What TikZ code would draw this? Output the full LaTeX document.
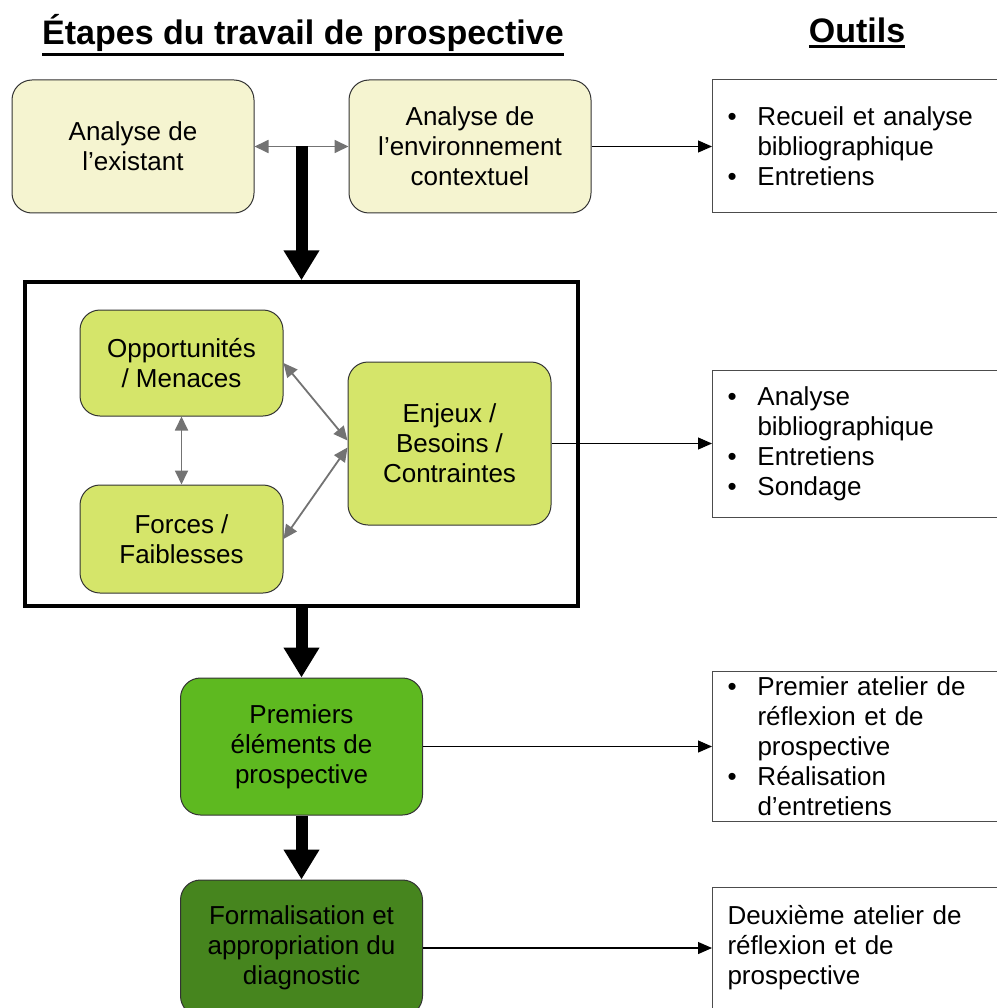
\documentclass[tikz,border=0pt]{standalone}
\usepackage{fontspec}
\setmainfont{Liberation Sans}
\usetikzlibrary{arrows.meta, positioning, calc}

\definecolor{jaunepale}{HTML}{F5F4D0}
\definecolor{vertjaune}{HTML}{D5E56A}
\definecolor{vertvif}{HTML}{5EB920}
\definecolor{vertfonce}{HTML}{46851E}

\newcommand{\souligne}[1]{\leavevmode\vtop{\hbox{#1}\kern2pt\hrule height 2.5pt}}
\newcommand{\puce}{\makebox[30pt][l]{\textbullet}}
\newcommand{\suite}{\hspace*{30pt}}

\begin{document}
\begin{tikzpicture}[x=1pt, y=-1pt, font=\fontsize{26}{30}\selectfont,
    etape/.style={draw=black!80, line width=1pt, rounded corners=20pt, align=center},
    outil/.style={draw=black!70, line width=1pt, fill=white, anchor=west, align=left,
      text width=268pt, inner xsep=15pt},
    gros/.style={line width=12pt, -{Triangle[length=30pt, width=34pt]}},
    fleche/.style={line width=1.1pt, -{Triangle[length=14pt, width=12pt]}},
    gris/.style={draw=black!55, line width=1.8pt,
      {Triangle[length=14pt, width=13pt]}-{Triangle[length=14pt, width=13pt]}}]
    \useasboundingbox (0,0) rectangle (996,1008);
    % Titres
    \node[font=\bfseries\fontsize{34}{40}\selectfont, inner sep=0pt] (titre) at (303,35) {\souligne{Étapes du travail de prospective}};
    \node[font=\bfseries\fontsize{34}{40}\selectfont, inner sep=0pt] (titreoutils) at (857,33) {\souligne{Outils}};
    % Etapes
    \node[etape, fill=jaunepale, minimum width=242pt, minimum height=133pt] (existant) at (133,146.5) {Analyse de\\l’existant};
    \node[etape, fill=jaunepale, minimum width=242pt, minimum height=133pt, right=94pt of existant] (environnement) {Analyse de\\l’environnement\\contextuel};
    \node[draw, line width=3.5pt, minimum width=553pt, minimum height=324pt] (cadre) at (301.5,444) {};
    \node[etape, fill=vertjaune, minimum width=203pt, minimum height=106pt] (opportunites) at (181.5,363) {Opportunités\\/ Menaces};
    \node[etape, fill=vertjaune, minimum width=203pt, minimum height=108pt] (forces) at (181.5,539) {Forces /\\Faiblesses};
    \node[etape, fill=vertjaune, minimum width=203pt, minimum height=163pt] (enjeux) at (449.5,443.5) {Enjeux /\\Besoins /\\Contraintes};
    \node[etape, fill=vertvif, minimum width=242pt, minimum height=137pt] (premiers) at (301.5,746.5) {Premiers\\éléments de\\prospective};
    \node[etape, fill=vertfonce, minimum width=242pt, minimum height=136pt] (formalisation) at (301.5,948) {Formalisation et\\appropriation du\\diagnostic};
    % Outils
    \node[outil, minimum height=133pt] (outil1) at (712,146.5) {\puce Recueil et analyse\\\suite bibliographique\\\puce Entretiens};
    \node[outil, minimum height=147pt] (outil2) at (712,443.5) {\puce Analyse\\\suite bibliographique\\\puce Entretiens\\\puce Sondage};
    \node[outil, minimum height=150pt] (outil3) at (712,746.5) {\puce Premier atelier de\\\suite réflexion et de\\\suite prospective\\\puce Réalisation\\\suite d’entretiens};
    \node[outil, minimum height=122pt] (outil4) at (712,948) {Deuxième atelier de\\réflexion et de\\prospective};

    \coordinate (milieu) at ($(existant.east)!.5!(environnement.west)$);
    \draw[gris] (existant) -- (environnement);
    \draw[gros] (milieu) -- (milieu |- cadre.north);
    \draw[fleche] (environnement) -- (outil1);
    \draw[gris] (opportunites) -- (forces);
    \draw[gris] (opportunites.east) -- ([yshift=3pt]enjeux.west);
    \draw[gris] (forces.east) -- ([yshift=-4pt]enjeux.west);
    \draw[fleche] (enjeux) -- (outil2);
    \draw[gros] (cadre.south) -- (premiers);
    \draw[gros] (premiers) -- (formalisation);
    \draw[fleche] (premiers) -- (outil3);
    \draw[fleche] (formalisation) -- (outil4);
\end{tikzpicture}
\end{document}
